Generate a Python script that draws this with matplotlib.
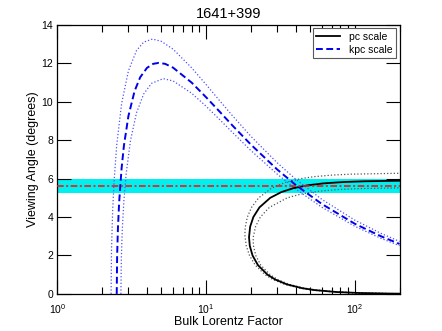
import matplotlib
matplotlib.use("Agg")
import matplotlib.pyplot as plt
from matplotlib.ticker import LogLocator, FixedLocator

plt.rcParams['font.family'] = ['Liberation Sans', 'DejaVu Sans']

title = "1641+399"
xlabel = "Bulk Lorentz Factor"
ylabel = "Viewing Angle (degrees)"

# kpc scale (Doppler-factor constraint): main curve and bounds
kpc_gamma = [2.504, 2.52, 2.55, 2.6, 2.7, 2.8, 3.0, 3.3, 3.6, 4.0, 4.4, 4.8, 5.3, 6, 8, 10, 12, 15, 20, 30, 40, 60, 100, 150, 200]
kpc_theta = [0, 2.02, 3.38, 4.78, 6.54, 7.72, 9.25, 10.55, 11.27, 11.76, 11.97, 12.02, 11.97, 11.77, 10.99, 10.23, 9.58, 8.77, 7.77, 6.48, 5.67, 4.68, 3.65, 3.00, 2.60]

kpc_hi_gamma = [2.2947, 2.31, 2.35, 2.4, 2.5, 2.7, 3.0, 3.4, 3.8, 4.36, 5, 6, 8, 10, 12, 15, 20, 30, 40, 60, 100, 150, 200]
kpc_hi_theta = [0, 2.31, 4.30, 5.78, 7.70, 9.90, 11.60, 12.66, 13.10, 13.26, 13.14, 12.73, 11.76, 10.89, 10.16, 9.28, 8.20, 6.83, 5.97, 4.92, 3.84, 3.15, 2.73]

kpc_lo_gamma = [2.6721, 2.69, 2.73, 2.8, 2.9, 3.1, 3.4, 3.8, 4.3, 5.15, 6, 8, 10, 12, 15, 20, 30, 40, 60, 100, 150, 200]
kpc_lo_theta = [0, 1.91, 3.38, 4.89, 6.27, 7.99, 9.42, 10.40, 10.96, 11.20, 11.08, 10.44, 9.76, 9.16, 8.41, 7.46, 6.24, 5.46, 4.51, 3.52, 2.89, 2.51]

# pc scale (apparent speed constraint): main curve and bounds
pc_theta = [0.0139, 0.02, 0.05, 0.1, 0.2, 0.3, 0.5, 0.75, 1.0, 1.5, 2.0, 2.5, 2.95, 3.5, 4.0, 4.5, 5.0, 5.3, 5.5, 5.65, 5.75, 5.82, 5.86, 5.888]
pc_gamma = [200, 167.0, 105.9, 75.19, 53.64, 44.19, 34.86, 29.15, 25.88, 22.30, 20.52, 19.66, 19.43, 19.77, 20.78, 22.82, 26.99, 32.09, 38.55, 48.04, 61.35, 83.1, 116.0, 200]

pc_out_theta = [0.013, 0.02, 0.05, 0.1, 0.2, 0.3, 0.5, 0.75, 1.0, 1.5, 2.0, 2.5, 3.0, 3.15, 3.5, 4.0, 4.5, 5.0, 5.5, 5.8, 6.0, 6.1, 6.18, 6.23, 6.278]
pc_out_gamma = [200, 161.7, 102.5, 72.79, 51.89, 42.73, 33.67, 28.11, 24.91, 21.38, 19.57, 18.62, 18.25, 18.23, 18.34, 18.94, 20.19, 22.56, 27.49, 33.98, 43.43, 53.21, 69.49, 93.73, 200]

pc_in_theta = [0.0148, 0.02, 0.05, 0.1, 0.2, 0.3, 0.5, 0.75, 1.0, 1.5, 2.0, 2.5, 2.77, 3.0, 3.5, 4.0, 4.5, 5.0, 5.2, 5.35, 5.43, 5.48, 5.517]
pc_in_gamma = [200, 172.5, 109.4, 77.71, 55.47, 45.72, 36.12, 30.26, 26.92, 23.30, 21.57, 20.82, 20.72, 20.80, 21.49, 23.15, 26.60, 35.14, 43.63, 58.12, 77.14, 107.8, 200]

# measured viewing angle and its range
theta_obs = 5.62
theta_band = [5.27, 5.97]

fig = plt.figure(figsize=(4.42, 3.31), dpi=100)
ax = fig.add_axes([0.130, 0.112, 0.774, 0.813])

ax.axhspan(theta_band[0], theta_band[1], color='#00f0f0', lw=0, zorder=1)

ax.plot(pc_out_gamma, pc_out_theta, ls=':', color='#555555', lw=0.9, zorder=2)
ax.plot(pc_in_gamma, pc_in_theta, ls=':', color='#555555', lw=0.9, zorder=2)
ax.plot(kpc_hi_gamma, kpc_hi_theta, ls=':', color='#5050ff', lw=0.9, zorder=2)
ax.plot(kpc_lo_gamma, kpc_lo_theta, ls=':', color='#5050ff', lw=0.9, zorder=2)
l1, = ax.plot(pc_gamma, pc_theta, '-', color='black', lw=1.3, zorder=3, label='pc scale')
l2, = ax.plot(kpc_gamma, kpc_theta, color='#0000ee', lw=1.4, ls=(0, (3.5, 1.8)), zorder=3, label='kpc scale')
ax.axhline(theta_obs, color='#ff1010', lw=1.2, ls=(0, (4, 1.5, 1.2, 1.5)), zorder=4)

ax.set_xscale('log')
ax.set_xlim(1, 200)
ax.set_ylim(0, 14)
ax.set_yticks([0, 2, 4, 6, 8, 10, 12, 14])
ax.xaxis.set_major_locator(FixedLocator([1, 10, 100]))
ax.xaxis.set_minor_locator(LogLocator(base=10, subs=range(2, 10)))

ax.tick_params(which='both', direction='in', top=True, right=True, labelsize=7.5, width=0.8, pad=3)
ax.tick_params(axis='x', which='both', pad=6)
ax.tick_params(which='major', length=10)
ax.tick_params(which='minor', length=5)
for s in ax.spines.values():
    s.set_linewidth(0.9)

ax.set_title(title, fontsize=10.5, pad=5)
ax.set_xlabel(xlabel, fontsize=9, labelpad=0)
ax.set_ylabel(ylabel, fontsize=9, labelpad=2)

leg = ax.legend(handles=[l1, l2], loc='upper right', fontsize=7.5, frameon=True, fancybox=False,
                edgecolor='0.35', framealpha=1, borderaxespad=0.35, handlelength=2.3,
                handletextpad=0.8, borderpad=0.35, labelspacing=0.25)
leg.get_frame().set_linewidth(0.8)

fig.savefig('out.png', dpi=100)
